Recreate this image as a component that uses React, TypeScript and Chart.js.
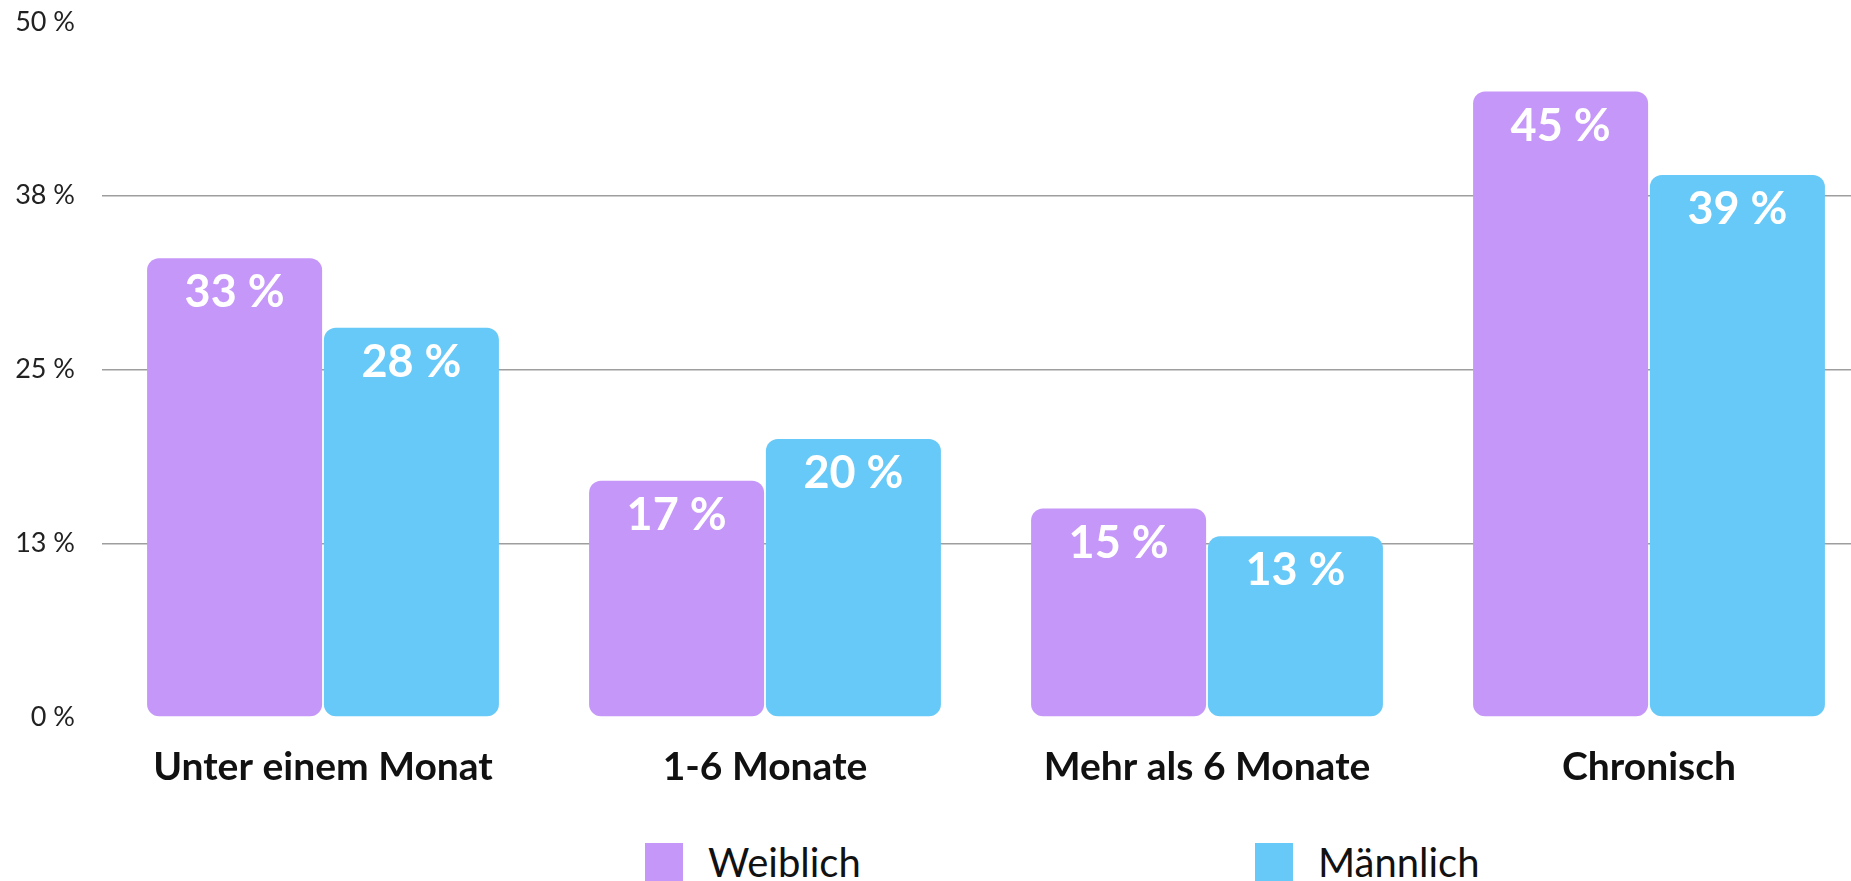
import React, { useEffect, useRef } from "react";
import { Chart, registerables } from "chart.js";

Chart.register(...registerables);

const categories = ["Unter einem Monat", "1-6 Monate", "Mehr als 6 Monate", "Chronisch"];
const femaleValues = [33, 17, 15, 45];
const maleValues = [28, 20, 13, 39];
const seriesLabels = ["Weiblich", "Männlich"];
const seriesColors = ["#C597F8", "#66C9F8"];
const yTickValues = [0, 12.5, 25, 37.5, 50];

const valueLabelPlugin = {
  id: "valueLabels",
  afterDatasetsDraw(chart: any) {
    const ctx = chart.ctx;
    ctx.save();
    ctx.font = "bold 45px Lato";
    ctx.fillStyle = "#ffffff";
    ctx.textAlign = "center";
    ctx.textBaseline = "alphabetic";
    chart.data.datasets.forEach((ds: any, i: number) => {
      const meta = chart.getDatasetMeta(i);
      meta.data.forEach((el: any, j: number) => {
        ctx.fillText(`${ds.data[j]} %`, el.x, el.y + 49);
      });
    });
    ctx.restore();
  },
};

export default function App() {
  const canvasRef = useRef<HTMLCanvasElement | null>(null);

  useEffect(() => {
    if (!canvasRef.current) return;
    const chart = new Chart(canvasRef.current, {
      type: "bar",
      data: {
        labels: categories,
        datasets: [
          {
            label: seriesLabels[0],
            data: femaleValues,
            backgroundColor: seriesColors[0],
            borderRadius: 12,
            borderSkipped: false,
            categoryPercentage: 0.8,
            barPercentage: 0.99,
          },
          {
            label: seriesLabels[1],
            data: maleValues,
            backgroundColor: seriesColors[1],
            borderRadius: 12,
            borderSkipped: false,
            categoryPercentage: 0.8,
            barPercentage: 0.99,
          },
        ],
      },
      options: {
        responsive: false,
        maintainAspectRatio: false,
        animation: false,
        layout: { padding: { top: 22, left: 0, right: 0, bottom: 0 } },
        plugins: {
          legend: { display: false },
          tooltip: { enabled: false },
        },
        scales: {
          x: {
            grid: { display: false },
            border: { display: false },
            ticks: {
              font: { family: "Lato", size: 39, weight: "bold" },
              color: "#111111",
              padding: 19,
            },
            afterFit: (scale: any) => {
              scale.height = 83;
            },
          },
          y: {
            min: 0,
            max: 50,
            afterBuildTicks: (scale: any) => {
              scale.ticks = yTickValues.map((v) => ({ value: v }));
            },
            grid: {
              drawTicks: true,
              tickLength: 27,
              tickColor: "rgba(0,0,0,0)",
              color: (ctx: any) =>
                ctx.tick && (ctx.tick.value === 0 || ctx.tick.value === 50) ? "rgba(0,0,0,0)" : "#9e9e9e",
              lineWidth: 1.5,
            },
            border: { display: false },
            ticks: {
              font: { family: "Lato", size: 27 },
              color: "#222222",
              padding: 0,
              callback: (v: any) => `${Math.round(Number(v))} %`,
            },
            afterFit: (scale: any) => {
              scale.width = 102;
            },
          },
        },
      },
      plugins: [valueLabelPlugin],
    });
    return () => chart.destroy();
  }, []);

  return (
    <div
      style={{
        position: "absolute",
        left: 0,
        top: 0,
        width: 1851,
        height: 881,
        overflow: "hidden",
        background: "#ffffff",
      }}
    >
      <canvas ref={canvasRef} width={1870} height={800} style={{ display: "block" }} />
      <div
        style={{
          position: "absolute",
          left: 645,
          top: 843,
          display: "grid",
          gridTemplateColumns: "610px 610px",
          fontFamily: "Lato",
          fontSize: 40,
          lineHeight: "38px",
          color: "#111111",
        }}
      >
        {seriesLabels.map((label, i) => (
          <div key={label} style={{ display: "flex", alignItems: "flex-start" }}>
            <span
              style={{
                display: "inline-block",
                width: 38,
                height: 38,
                background: seriesColors[i],
                marginRight: 25,
              }}
            />
            <span>{label}</span>
          </div>
        ))}
      </div>
    </div>
  );
}
